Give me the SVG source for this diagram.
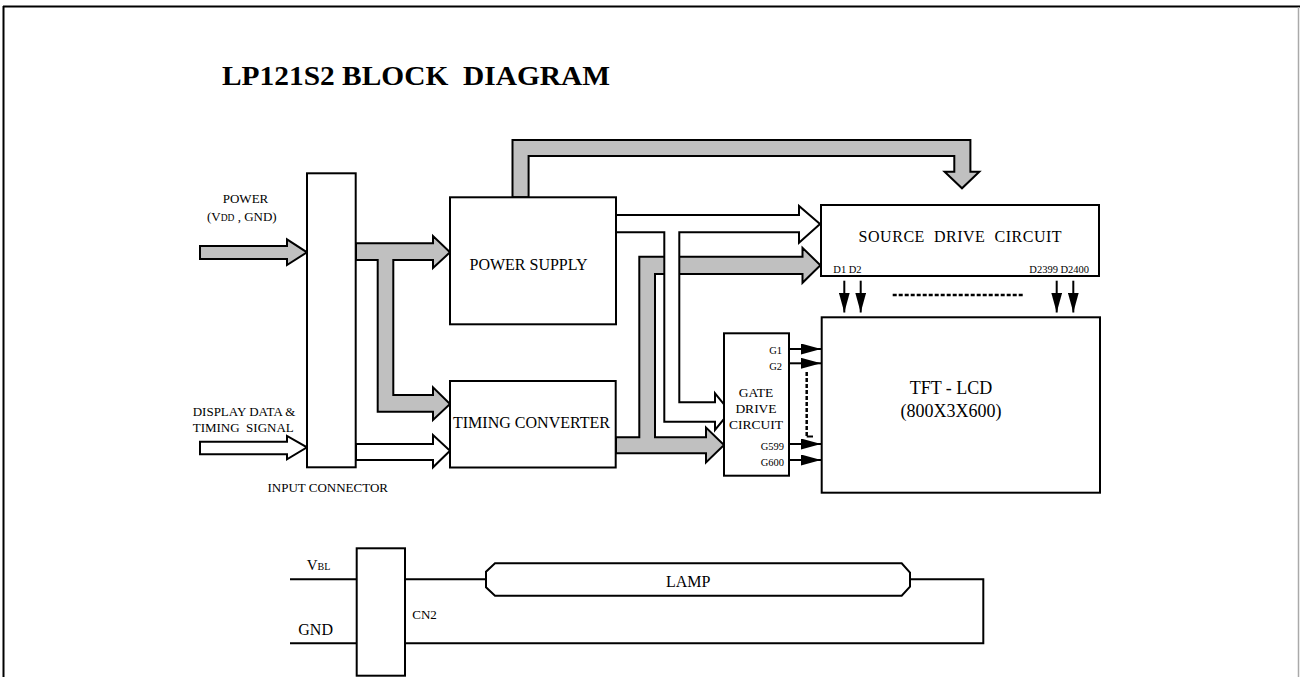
<svg xmlns="http://www.w3.org/2000/svg" width="1300" height="677" viewBox="0 0 1300 677">
<style>
text{font-family:"Liberation Serif","Times New Roman",serif;fill:#000;white-space:pre}
.ln{fill:none;stroke:#000;stroke-width:2}
.box{fill:#fff;stroke:#000;stroke-width:2}
.ga{fill:#c0c0c0;stroke:#000;stroke-width:2;stroke-linejoin:miter}
.wa{fill:#fff;stroke:#000;stroke-width:2;stroke-linejoin:miter}
.dot{fill:none;stroke:#000;stroke-width:2.5;stroke-dasharray:4 2}
.t16{font-size:16px}
.t13{font-size:13px}
.t10{font-size:10.5px}
</style>
<defs>
<marker id="ah" markerUnits="userSpaceOnUse" markerWidth="20" markerHeight="11" refX="20" refY="5.5" orient="auto">
<path d="M0,0 L20,5.5 L0,11 z" fill="#000"/>
</marker>
</defs>
<rect x="0" y="0" width="1300" height="677" fill="#fff"/>
<g id="frame">
<line x1="3" y1="6.5" x2="1300" y2="6.5" stroke="#000" stroke-width="2"/>
<line x1="3.5" y1="6" x2="3.5" y2="677" stroke="#000" stroke-width="2"/>
<line x1="1298.5" y1="7" x2="1298.5" y2="677" stroke="#aaa" stroke-width="1.5"/>
</g>
<text x="222" y="85" font-size="27" font-weight="bold" textLength="388" lengthAdjust="spacingAndGlyphs">LP121S2 BLOCK  DIAGRAM</text>

<g id="connectors">
<polygon class="ga" points="200,246 287,246 287,239.3 307,252.3 287,265 287,259 200,259"/>
<polygon class="wa" points="200,441.7 287,441.7 287,436 307,447.3 287,459.3 287,454.3 200,454.3"/>
<polygon class="ga" points="356,243.3 433,243.3 433,236 450,252.3 433,268 433,260 393.3,260 393.3,395 433,395 433,387.3 450,404 433,420 433,411.7 377.7,411.7 377.7,260 356,260"/>
<polygon class="wa" points="356,444 433,444 433,435 450,450.7 433,467.3 433,460 356,460"/>
<polygon class="ga" points="512.5,197.3 512.5,140 970.4,140 970.4,171.7 979.3,171.7 962,188.3 944.6,171.7 954.3,171.7 954.3,156 528.6,156 528.6,197.3"/>
<polygon class="ga" points="616,437.3 639.3,437.3 639.3,256.7 802.5,256.7 802.5,247.8 820.4,265.3 802.5,282.8 802.5,274 655,274 655,437.3 706,437.3 706,427.5 724,445 706,462.5 706,453.3 616,453.3"/>
<polygon class="wa" points="616,215 799,215 799,206 820,224 799,242.7 799,232.3 679.3,232.3 679.3,402.3 715,402.3 715,393.3 730,411.7 715,430 715,421.7 664.3,421.7 664.3,232.3 616,232.3"/>
<line class="ln" x1="789" y1="349" x2="821" y2="349" marker-end="url(#ah)"/>
<line class="ln" x1="789" y1="363.3" x2="821" y2="363.3" marker-end="url(#ah)"/>
<line class="ln" x1="789" y1="444" x2="821" y2="444" marker-end="url(#ah)"/>
<line class="ln" x1="789" y1="460" x2="821" y2="460" marker-end="url(#ah)"/>
<path class="dot" d="M806.7,372 V436"/>
<path class="ln" d="M806.7,436.5 H813"/>
<line class="ln" x1="844.3" y1="280.7" x2="844.3" y2="312.5" marker-end="url(#ah)"/>
<line class="ln" x1="860.7" y1="280.7" x2="860.7" y2="312.5" marker-end="url(#ah)"/>
<line class="ln" x1="1056.7" y1="280.7" x2="1056.7" y2="312.5" marker-end="url(#ah)"/>
<line class="ln" x1="1073.3" y1="280.7" x2="1073.3" y2="312.5" marker-end="url(#ah)"/>
<path class="dot" d="M892.7,295 H1024"/>
<path class="ln" d="M290,579.3 H356.7 M405,579.3 H486 M290,643.3 H356.7 M405,643.3 H983.3 V579.3 H910"/>
</g>

<g id="input-connector">
<rect class="box" x="307" y="173.3" width="48.7" height="294"/>
<text class="t13" x="327.7" y="491.7" text-anchor="middle">INPUT CONNECTOR</text>
</g>
<g id="power-label">
<text class="t13" x="245.5" y="203" text-anchor="middle">POWER</text>
<text class="t13" x="207" y="221">(V<tspan font-size="9.5">DD</tspan> , GND)</text>
</g>
<g id="display-label">
<text class="t13" x="192.7" y="416">DISPLAY DATA &amp;</text>
<text class="t13" x="192.7" y="431.7">TIMING  SIGNAL</text>
</g>
<g id="power-supply">
<rect class="box" x="450" y="197.3" width="166" height="127"/>
<text class="t16" x="528.5" y="270" text-anchor="middle">POWER SUPPLY</text>
</g>
<g id="timing-converter">
<rect class="box" x="450" y="381" width="165.7" height="86.5"/>
<text class="t16" x="453" y="428" textLength="157" lengthAdjust="spacingAndGlyphs">TIMING CONVERTER</text>
</g>
<g id="source-drive">
<rect class="box" x="821" y="205" width="278" height="71"/>
<text class="t16" x="858.6" y="242" textLength="203" lengthAdjust="spacing">SOURCE  DRIVE  CIRCUIT</text>
<text class="t10" x="833.3" y="273.3">D1 D2</text>
<text class="t10" x="1029.3" y="273.3">D2399 D2400</text>
</g>
<g id="gate-drive">
<rect class="box" x="724" y="333.3" width="65" height="142.4"/>
<text x="756" y="397" font-size="13.5" text-anchor="middle">GATE</text>
<text x="756" y="413" font-size="13.5" text-anchor="middle">DRIVE</text>
<text x="756" y="429" font-size="13.5" text-anchor="middle">CIRCUIT</text>
<text class="t10" x="782" y="354" text-anchor="end">G1</text>
<text class="t10" x="782" y="370" text-anchor="end">G2</text>
<text class="t10" x="784" y="450" text-anchor="end">G599</text>
<text class="t10" x="784" y="466" text-anchor="end">G600</text>
</g>
<g id="tft-lcd">
<rect class="box" x="821.7" y="317.3" width="278.3" height="175.4"/>
<text x="951" y="394" font-size="18" text-anchor="middle">TFT - LCD</text>
<text x="951" y="416.7" font-size="18" text-anchor="middle">(800X3X600)</text>
</g>
<g id="cn2">
<rect class="box" x="356.7" y="548.3" width="48.3" height="127.4"/>
<text class="t13" x="412.3" y="619.3">CN2</text>
<text x="306.7" y="570" font-size="15">V<tspan font-size="10">BL</tspan></text>
<text class="t16" x="298.3" y="635">GND</text>
</g>
<g id="lamp">
<polygon class="box" points="495,563.3 901.7,563.3 910,572.7 910,586.7 901.7,595.7 495,595.7 486,587.3 486,571.7"/>
<text class="t16" x="666" y="586.7">LAMP</text>
</g>
</svg>
